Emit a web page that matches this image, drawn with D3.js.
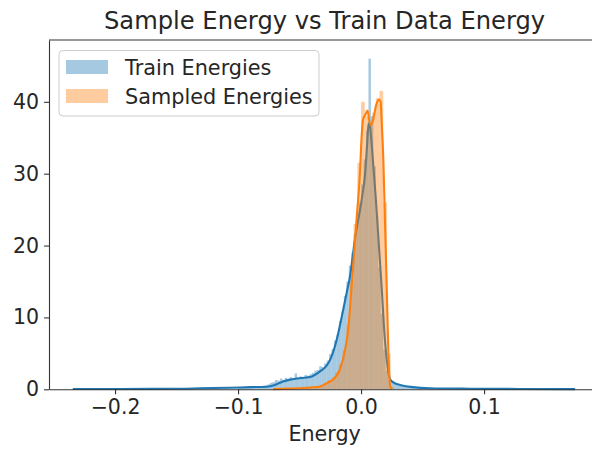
<!DOCTYPE html>
<html>
<head>
    <meta charset="utf-8">
    <title>Sample Energy vs Train Data Energy</title>
    <script src="https://d3js.org/d3.v7.min.js"></script>
    <style>
        body { margin: 0; background: #fff; font-family: "DejaVu Sans", sans-serif; }
        .axis path, .axis line { stroke: #333; stroke-width: 1.1; }
        .axis text { font-family: "DejaVu Sans", sans-serif; font-size: 20.5px; fill: #262626; }
    </style>
</head>
<body style="overflow: hidden;">
    <script>
    // axis ticks
    var xTicks = [-0.2, -0.1, 0.0, 0.1];
    var yTicks = [0, 10, 20, 30, 40];
    var xDomain = [-0.2537, 0.1944];
    var yDomain = [0, 48.6];

    // train histogram: bins of 0.002 starting at -0.1
    var trainBinStart = -0.1, trainBinWidth = 0.002;
    var trainHist = [0.25, 0.2, 0.3, 0.25, 0.3, 0.35, 0.3, 0.4, 0.35, 0.45,
                     0.5, 0.55, 0.7, 0.9, 1.0, 1.3, 1.2, 1.5, 1.3, 1.6,
                     1.4, 1.7, 1.5, 2.2, 1.6, 1.8, 1.7, 2.0, 1.9, 2.1,
                     2.3, 2.6, 2.7, 3.2, 3.1, 3.6, 4.0, 4.9, 5.6, 6.8,
                     7.6, 9.5, 10.8, 13.0, 15.0, 17.2, 19.0, 21.5, 23.8, 26.0,
                     28.5, 32.0, 36.0, 46.0, 38.0, 31.0, 24.0, 17.0, 10.5, 5.5,
                     2.6, 1.3, 1.0, 0.8, 0.6, 0.55, 0.45, 0.4, 0.35, 0.3,
                     0.25, 0.2, 0.2, 0.15, 0.15];

    // sampled histogram: bins of 0.003 starting at -0.072
    var sampBinStart = -0.072, sampBinWidth = 0.003;
    var sampHist = [0.05, 0.05, 0.1, 0.1, 0.1, 0.15, 0.15, 0.2, 0.2, 0.25,
                    0.3, 0.35, 0.4, 0.6, 0.9, 1.3, 1.7, 2.4, 3.5, 5.5,
                    9.0, 15.0, 23.0, 31.5, 40.0, 38.0, 37.0, 38.5, 40.5, 41.5,
                    26.0, 5.0, 0.3];

    // kde curves (energy, density)
    var trainKdeX = [-0.2344, -0.196, -0.1715, -0.147, -0.131, -0.1065, -0.090, -0.0767, -0.070, -0.0634,
                     -0.0577, -0.052, -0.0415, -0.0333, -0.0285, -0.0252, -0.0198, -0.0157, -0.0116, -0.0089,
                     -0.0049, 0.0006, 0.0033, 0.0049, 0.0061, 0.0073, 0.0089, 0.0122, 0.0168, 0.0187,
                     0.0209, 0.0236, 0.0268, 0.0317, 0.0423, 0.056, 0.0886, 0.129, 0.174];
    var trainKdeY = [0.05, 0.05, 0.06, 0.08, 0.14, 0.22, 0.3, 0.35, 0.6, 1.1,
                     1.35, 1.5, 1.7, 2.5, 3.2, 4.1, 6.9, 10.1, 13.5, 15.8,
                     21.0, 26.5, 30.0, 34.0, 37.0, 36.5, 33.5, 26.0, 14.0, 8.5,
                     4.1, 1.4, 0.9, 0.6, 0.3, 0.15, 0.08, 0.05, 0.03];

    var sampKdeX = [-0.0715, -0.0577, -0.0415, -0.0333, -0.0279, -0.0225, -0.0171, -0.013, -0.0103, -0.0076,
                    -0.0035, -0.0008, 0.0004, 0.0016, 0.0037, 0.0053, 0.0065, 0.0081, 0.0098, 0.0122,
                    0.0146, 0.0159, 0.0168, 0.0181, 0.0195, 0.0209, 0.0222, 0.0236, 0.0252];
    var sampKdeY = [0.02, 0.1, 0.25, 0.4, 0.85, 1.4, 2.8, 5.5, 8.5, 14.5,
                    24.0, 30.5, 35.0, 37.5, 38.3, 38.8, 37.5, 36.8, 37.5, 39.5,
                    40.3, 40.0, 37.0, 32.0, 23.0, 14.0, 5.0, 0.5, 0.05];

    var trainColor = "#1f77b4", sampColor = "#ff7f0e";

    var width = 592, height = 451;
    var svg = d3.select("body").append("svg")
        .attr("width", width)
        .attr("height", height);

    var xscale = d3.scaleLinear().domain(xDomain).range([49, 600.2]);
    var yscale = d3.scaleLinear().domain(yDomain).range([389.3, 40]);

    var plot = svg.append("g");

    function drawHist(vals, start, w, color) {
        plot.append("g").selectAll("rect")
            .data(vals)
          .enter().append("rect")
            .attr("x", function(d, i) { return xscale(start + i * w); })
            .attr("width", function(d, i) { return xscale(start + (i + 1) * w) - xscale(start + i * w); })
            .attr("y", function(d) { return yscale(d); })
            .attr("height", function(d) { return yscale(0) - yscale(d); })
            .attr("fill", color)
            .attr("fill-opacity", 0.4);
    }

    function drawKde(xs, ys, color) {
        var pts = xs.map(function(x, i) { return [x, ys[i]]; });
        var line = d3.line()
            .x(function(d) { return xscale(d[0]); })
            .y(function(d) { return yscale(d[1]); })
            .curve(d3.curveMonotoneX);
        plot.append("path")
            .attr("d", line(pts))
            .attr("fill", "none")
            .attr("stroke", color)
            .attr("stroke-width", 2.1)
            .attr("stroke-linejoin", "round");
    }

    drawHist(trainHist, trainBinStart, trainBinWidth, trainColor);
    drawKde(trainKdeX, trainKdeY, trainColor);
    drawHist(sampHist, sampBinStart, sampBinWidth, sampColor);
    drawKde(sampKdeX, sampKdeY, sampColor);

    // axes
    var fmt = function(d) { return d3.format(".1f")(d).replace("-", "\u2212"); };
    var xAxis = svg.append("g")
        .attr("class", "axis")
        .attr("transform", "translate(0," + yscale(0) + ")")
        .call(d3.axisBottom(xscale).tickValues(xTicks).tickFormat(fmt).tickSize(4.9).tickPadding(5).tickSizeOuter(0));
    var yAxis = svg.append("g")
        .attr("class", "axis")
        .attr("transform", "translate(" + xscale(xDomain[0]) + ",0)")
        .call(d3.axisLeft(yscale).tickValues(yTicks).tickFormat(d3.format("d")).tickSize(4.9).tickPadding(5).tickSizeOuter(0));

    // top spine
    svg.append("line")
        .attr("x1", xscale(xDomain[0])).attr("x2", xscale(xDomain[1]))
        .attr("y1", yscale(yDomain[1])).attr("y2", yscale(yDomain[1]))
        .attr("stroke", "#333").attr("stroke-width", 1.1);

    // title and label
    var cx = (xscale(xDomain[0]) + xscale(xDomain[1])) / 2;
    svg.append("text")
        .attr("x", cx).attr("y", 28.5)
        .attr("text-anchor", "middle")
        .style("font-size", "24.2px")
        .style("fill", "#262626")
        .text("Sample Energy vs Train Data Energy");
    svg.append("text")
        .attr("x", cx).attr("y", 441)
        .attr("text-anchor", "middle")
        .style("font-size", "20.7px")
        .style("fill", "#262626")
        .text("Energy");

    // legend
    var legend = svg.append("g");
    legend.append("rect")
        .attr("x", 59).attr("y", 50.5)
        .attr("width", 260).attr("height", 65.5)
        .attr("rx", 4)
        .attr("fill", "white").attr("fill-opacity", 0.8)
        .attr("stroke", "#cccccc").attr("stroke-width", 1);
    var items = [["Train Energies", trainColor], ["Sampled Energies", sampColor]];
    items.forEach(function(it, i) {
        legend.append("rect")
            .attr("x", 66).attr("y", 60 + i * 29)
            .attr("width", 42).attr("height", 14)
            .attr("fill", it[1]).attr("fill-opacity", 0.4);
        legend.append("text")
            .attr("x", 125).attr("y", 74.5 + i * 29)
            .style("font-size", "20.8px")
            .style("fill", "#262626")
            .text(it[0]);
    });
    </script>
</body>
</html>
